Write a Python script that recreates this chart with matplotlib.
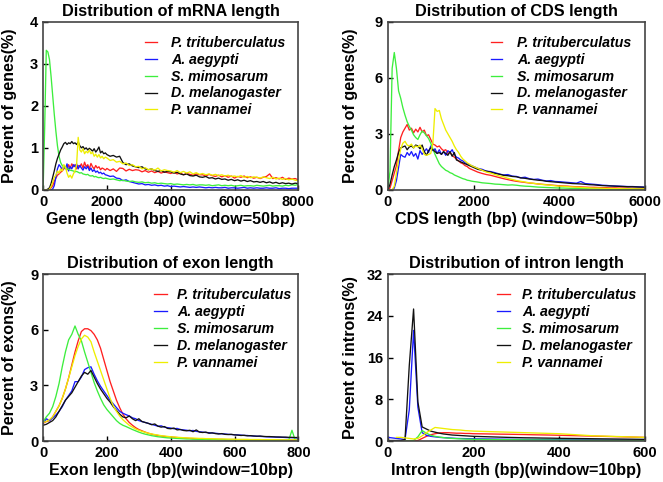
import numpy as np
import matplotlib
matplotlib.use("Agg")
import matplotlib.pyplot as plt

species = ["P. trituberculatus", "A. aegypti", "S. mimosarum", "D. melanogaster", "P. vannamei"]
colors = ["#ff2020", "#1a1aff", "#3dee3d", "#111111", "#eeee00"]

# ---------------- mRNA length (window 50bp) ----------------
x_mrna = list(range(0, 2000, 50)) + list(range(2000, 8001, 100))
mrna_red = [0, 0, 0, 0, 0.02, 0.05, 0.1, 0.2, 0.28, 0.35,
            0.38, 0.42, 0.45, 0.5, 0.55, 0.48, 0.6, 0.52, 0.62, 0.55,
            0.6, 0.5, 0.58, 0.55, 0.62, 0.52, 0.66, 0.55, 0.6, 0.5,
            0.63, 0.55, 0.5, 0.58, 0.52, 0.55, 0.48, 0.52, 0.5, 0.47,
            0.51, 0.46, 0.5, 0.44, 0.52, 0.51, 0.45, 0.49, 0.46, 0.48,
            0.47, 0.43, 0.46, 0.42, 0.45, 0.41, 0.44, 0.4, 0.43, 0.41,
            0.39, 0.42, 0.38, 0.4, 0.36, 0.39, 0.37, 0.35, 0.38, 0.36,
            0.36, 0.33, 0.37, 0.34, 0.32, 0.35, 0.31, 0.34, 0.3, 0.33,
            0.28, 0.32, 0.3, 0.33, 0.29, 0.31, 0.28, 0.3, 0.27, 0.3,
            0.32, 0.38, 0.27, 0.29, 0.26, 0.3, 0.25, 0.28, 0.26, 0.27,
            0.24]
mrna_blue = [0, 0, 0, 0, 0, 0, 0.02, 0.1, 0.3, 0.5,
             0.6, 0.55, 0.48, 0.58, 0.5, 0.62, 0.45, 0.55, 0.5, 0.6,
             0.55, 0.62, 0.5, 0.58, 0.52, 0.47, 0.55, 0.5, 0.56, 0.46,
             0.52, 0.44, 0.48, 0.42, 0.45, 0.4, 0.42, 0.38, 0.4, 0.36,
             0.35, 0.32, 0.33, 0.28, 0.27, 0.22, 0.24, 0.2, 0.18, 0.16,
             0.14, 0.15, 0.12, 0.13, 0.11, 0.12, 0.1, 0.11, 0.09, 0.1,
             0.08, 0.09, 0.08, 0.07, 0.08, 0.07, 0.06, 0.07, 0.06, 0.07,
             0.06, 0.05, 0.06, 0.05, 0.06, 0.05, 0.05, 0.06, 0.04, 0.05,
             0.05, 0.04, 0.05, 0.06, 0.04, 0.05, 0.04, 0.05, 0.04, 0.04,
             0.05, 0.04, 0.04, 0.05, 0.03, 0.04, 0.04, 0.03, 0.04, 0.04,
             0.04]
mrna_green = [0.0, 1.5, 3.32, 3.28, 3.1, 2.7, 2.25, 1.8, 1.4, 1.05,
              0.8, 0.65, 0.58, 0.55, 0.52, 0.5, 0.49, 0.47, 0.46, 0.45,
              0.43, 0.44, 0.42, 0.4, 0.41, 0.38, 0.37, 0.36, 0.37, 0.34,
              0.33, 0.34, 0.31, 0.32, 0.3, 0.29, 0.3, 0.28, 0.27, 0.28,
              0.27, 0.25, 0.26, 0.24, 0.22, 0.23, 0.21, 0.2, 0.21, 0.19,
              0.18, 0.19, 0.17, 0.18, 0.16, 0.17, 0.15, 0.16, 0.15, 0.14,
              0.15, 0.13, 0.14, 0.13, 0.12, 0.13, 0.12, 0.13, 0.11, 0.12,
              0.12, 0.11, 0.12, 0.1, 0.11, 0.12, 0.1, 0.11, 0.1, 0.11,
              0.09, 0.1, 0.11, 0.09, 0.1, 0.1, 0.09, 0.11, 0.1, 0.09,
              0.1, 0.11, 0.09, 0.1, 0.1, 0.09, 0.11, 0.1, 0.12, 0.11,
              0.13]
mrna_black = [0, 0, 0, 0.02, 0.05, 0.15, 0.3, 0.45, 0.62, 0.75,
              0.85, 0.95, 1.02, 1.1, 1.13, 1.08, 1.12, 1.1, 1.15, 1.1,
              1.12, 1.08, 1.14, 1.05, 1.0, 1.03, 0.97, 1.0, 0.95, 0.99,
              0.96, 0.92, 0.98, 0.9, 0.95, 1.02, 0.88, 0.92, 0.86, 0.88,
              0.84, 0.8, 0.82, 0.78, 0.8, 0.65, 0.6, 0.62, 0.57, 0.55,
              0.53, 0.55, 0.5, 0.48, 0.5, 0.46, 0.44, 0.46, 0.42, 0.44,
              0.43, 0.4, 0.42, 0.38, 0.36, 0.38, 0.34, 0.33, 0.35, 0.31,
              0.3, 0.32, 0.28, 0.29, 0.26, 0.28, 0.25, 0.26, 0.23, 0.25,
              0.22, 0.24, 0.21, 0.23, 0.2, 0.22, 0.19, 0.2, 0.18, 0.2,
              0.17, 0.19, 0.16, 0.18, 0.15, 0.17, 0.15, 0.16, 0.14, 0.16,
              0.15]
mrna_yellow = [0, 0, 0, 0, 0.02, 0.08, 0.18, 0.3, 0.35, 0.45,
               0.4, 0.5, 0.45, 0.6, 0.55, 0.4, 0.3, 0.35, 0.28, 0.38,
               0.45, 0.6, 1.25, 0.95, 0.9, 0.98, 0.86, 0.92, 0.88, 0.95,
               0.86, 0.9, 0.8, 0.85, 0.78, 0.84, 0.76, 0.8, 0.74, 0.78,
               0.76, 0.7, 0.72, 0.66, 0.68, 0.62, 0.64, 0.58, 0.6, 0.55,
               0.56, 0.5, 0.53, 0.48, 0.5, 0.47, 0.52, 0.45, 0.48, 0.46,
               0.45, 0.42, 0.46, 0.41, 0.44, 0.4, 0.43, 0.38, 0.41, 0.37,
               0.39, 0.36, 0.38, 0.35, 0.37, 0.34, 0.36, 0.33, 0.35, 0.32,
               0.33, 0.31, 0.34, 0.3, 0.32, 0.29, 0.31, 0.3, 0.28, 0.31,
               0.29, 0.27, 0.3, 0.26, 0.28, 0.25, 0.27, 0.24, 0.26, 0.23,
               0.22]

# ---------------- CDS length (window 50bp) ----------------
x_cds = list(range(0, 2000, 50)) + list(range(2000, 6001, 100))
cds_red = [0, 0.1, 0.5, 0.9, 1.3, 2.1, 2.8, 3.1, 3.3, 3.5,
           3.2, 3.3, 3.05, 3.25, 3.1, 3.35, 3.1, 3.2, 2.9, 2.95,
           2.7, 2.45, 2.4, 2.3, 2.35, 2.2, 2.1, 2.15, 1.95, 2.0,
           1.85, 1.75, 1.65, 1.55, 1.45, 1.4, 1.3, 1.25, 1.15, 1.1,
           1.05, 0.95, 0.88, 0.82, 0.78, 0.72, 0.66, 0.6, 0.55, 0.5,
           0.46, 0.43, 0.4, 0.37, 0.35, 0.32, 0.3, 0.28, 0.26, 0.24,
           0.22, 0.21, 0.2, 0.18, 0.17, 0.16, 0.15, 0.14, 0.14, 0.13,
           0.12, 0.12, 0.11, 0.11, 0.1, 0.1, 0.1, 0.09, 0.09, 0.09,
           0.08]
cds_blue = [0, 0, 0, 0.1, 0.5, 1.2, 1.9, 1.8, 1.75, 2.0,
            1.85, 2.05, 1.8, 1.95, 1.65, 2.1, 1.9, 2.05, 2.2, 2.0,
            2.35, 2.1, 2.2, 1.95, 2.15, 1.9, 2.05, 1.85, 2.1, 2.0,
            2.15, 1.9, 1.75, 1.7, 1.6, 1.55, 1.45, 1.4, 1.35, 1.3,
            1.25, 1.15, 1.1, 1.0, 0.98, 0.92, 0.85, 0.8, 0.82, 0.74,
            0.72, 0.65, 0.68, 0.6, 0.56, 0.58, 0.52, 0.48, 0.5, 0.45,
            0.44, 0.42, 0.4, 0.38, 0.36, 0.45, 0.34, 0.32, 0.3, 0.28,
            0.25, 0.24, 0.22, 0.21, 0.2, 0.19, 0.18, 0.18, 0.17, 0.16,
            0.15]
cds_green = [0, 1.0, 6.5, 7.35, 6.5, 5.3, 4.9, 4.4, 4.0, 3.65,
             3.4, 3.2, 2.95, 2.8, 2.7, 2.95, 3.15, 3.05, 2.9, 2.75,
             2.5, 2.2, 1.9, 1.65, 1.4, 1.25, 1.15, 1.05, 1.0, 0.92,
             0.88, 0.8, 0.75, 0.7, 0.65, 0.6, 0.57, 0.52, 0.5, 0.47,
             0.45, 0.42, 0.38, 0.36, 0.34, 0.31, 0.3, 0.28, 0.26, 0.27,
             0.25, 0.22, 0.2, 0.19, 0.17, 0.15, 0.14, 0.13, 0.12, 0.11,
             0.1, 0.1, 0.09, 0.08, 0.08, 0.07, 0.07, 0.06, 0.06, 0.05,
             0.05, 0.05, 0.04, 0.05, 0.04, 0.04, 0.04, 0.03, 0.04, 0.03,
             0.03]
cds_black = [0, 0.3, 0.8, 1.25, 1.6, 2.0, 2.25, 2.3, 2.35, 2.15,
             2.3, 2.35, 2.25, 2.4, 2.35, 2.2, 2.4, 2.05, 1.85, 2.1,
             2.25, 2.15, 2.05, 1.95, 2.0, 1.9, 2.05, 1.95, 1.85, 2.05,
             1.8, 2.0, 1.6, 1.55, 1.5, 1.45, 1.4, 1.35, 1.3, 1.25,
             1.2, 1.1, 1.05, 1.0, 0.95, 0.88, 0.84, 0.78, 0.76, 0.72,
             0.7, 0.64, 0.62, 0.58, 0.55, 0.52, 0.5, 0.46, 0.44, 0.42,
             0.4, 0.38, 0.36, 0.34, 0.33, 0.32, 0.3, 0.28, 0.27, 0.25,
             0.23, 0.22, 0.21, 0.2, 0.19, 0.18, 0.17, 0.17, 0.16, 0.15,
             0.14]
cds_yellow = [0, 0, 0, 0.2, 0.9, 1.6, 2.2, 2.5, 2.6, 2.4,
              2.35, 2.45, 2.25, 2.35, 2.3, 2.4, 2.2, 1.9, 1.85, 1.9,
              1.95, 2.5, 4.35, 4.2, 4.25, 3.8, 3.5, 3.2, 3.0, 2.8,
              2.6, 2.35, 2.15, 2.0, 1.8, 1.65, 1.55, 1.45, 1.38, 1.3,
              1.25, 1.15, 1.05, 0.95, 0.9, 0.82, 0.75, 0.7, 0.62, 0.56,
              0.5, 0.46, 0.42, 0.38, 0.35, 0.32, 0.29, 0.27, 0.25, 0.22,
              0.2, 0.19, 0.17, 0.16, 0.15, 0.13, 0.12, 0.11, 0.1, 0.1,
              0.09, 0.08, 0.08, 0.07, 0.07, 0.06, 0.06, 0.06, 0.05, 0.05,
              0.05]

# ---------------- Exon length (window 10bp) ----------------
x_exon = list(range(0, 801, 10))
exon_red = [0.95, 1.05, 1.1, 1.3, 1.6, 1.9, 2.3, 2.8, 3.4, 4.1,
            4.8, 5.4, 5.9, 6.05, 6.05, 5.95, 5.75, 5.45, 5.0, 4.4,
            3.8, 3.2, 2.7, 2.2, 1.8, 1.45, 1.2, 1.0, 0.85, 0.72,
            0.62, 0.55, 0.48, 0.42, 0.37, 0.33, 0.3, 0.27, 0.25, 0.23,
            0.22, 0.2, 0.19, 0.17, 0.16, 0.15, 0.14, 0.13, 0.12, 0.12,
            0.11, 0.1, 0.1, 0.1, 0.09, 0.09, 0.09, 0.08, 0.08, 0.08,
            0.08, 0.07, 0.07, 0.07, 0.07, 0.06, 0.06, 0.06, 0.06, 0.06,
            0.05, 0.05, 0.05, 0.05, 0.05, 0.05, 0.04, 0.04, 0.04, 0.04,
            0.04]
exon_blue = [0.95, 1.2, 1.1, 1.25, 1.4, 1.6, 1.85, 2.2, 2.45, 2.7,
             3.2, 3.2, 3.45, 3.85, 3.95, 4.0, 3.6, 3.25, 2.95, 2.7,
             2.45, 2.2, 2.0, 1.8, 1.6, 1.5, 1.42, 1.35, 1.25, 1.2,
             1.1, 1.05, 1.0, 0.95, 0.9, 0.85, 0.8, 0.82, 0.75, 0.72,
             0.7, 0.66, 0.68, 0.62, 0.6, 0.58, 0.55, 0.57, 0.52, 0.5,
             0.48, 0.46, 0.45, 0.43, 0.42, 0.4, 0.39, 0.38, 0.36, 0.35,
             0.34, 0.33, 0.32, 0.3, 0.3, 0.28, 0.27, 0.26, 0.25, 0.24,
             0.23, 0.22, 0.22, 0.21, 0.2, 0.2, 0.19, 0.18, 0.18, 0.17,
             0.16]
exon_green = [1.05, 1.3, 1.5, 1.85, 2.4, 3.1, 4.0, 4.8, 5.45, 5.75,
              6.2, 5.75, 5.4, 4.8, 4.25, 3.7, 3.15, 2.7, 2.3, 1.95,
              1.7, 1.5, 1.3, 1.1, 0.95, 0.85, 0.78, 0.7, 0.62, 0.55,
              0.48, 0.42, 0.37, 0.33, 0.29, 0.26, 0.23, 0.21, 0.19, 0.17,
              0.16, 0.15, 0.14, 0.13, 0.12, 0.11, 0.11, 0.1, 0.1, 0.09,
              0.09, 0.09, 0.08, 0.08, 0.08, 0.07, 0.07, 0.07, 0.07, 0.06,
              0.06, 0.06, 0.06, 0.06, 0.05, 0.05, 0.05, 0.05, 0.05, 0.05,
              0.05, 0.04, 0.04, 0.04, 0.04, 0.04, 0.04, 0.05, 0.58, 0.05,
              0.04]
exon_black = [0.85, 0.9, 1.0, 1.1, 1.3, 1.6, 1.9, 2.2, 2.4, 2.6,
              2.9, 3.2, 3.5, 3.7, 3.6, 3.8, 3.45, 3.1, 2.8, 2.55,
              2.3, 2.1, 1.85, 1.65, 1.45, 1.3, 1.25, 1.35, 1.2, 1.1,
              1.2, 1.05, 1.0, 0.95, 0.88, 0.92, 0.8, 0.75, 0.78, 0.68,
              0.66, 0.7, 0.6, 0.62, 0.57, 0.55, 0.58, 0.5, 0.6, 0.48,
              0.46, 0.48, 0.42, 0.44, 0.4, 0.38, 0.4, 0.36, 0.35, 0.36,
              0.33, 0.32, 0.3, 0.31, 0.28, 0.29, 0.27, 0.26, 0.27, 0.25,
              0.24, 0.24, 0.23, 0.22, 0.22, 0.21, 0.21, 0.2, 0.2, 0.19,
              0.19]
exon_yellow = [1.0, 1.05, 1.15, 1.3, 1.6, 1.9, 2.3, 2.8, 3.4, 4.0,
               4.6, 5.1, 5.5, 5.7, 5.6, 5.35, 4.8, 4.3, 3.8, 3.3,
               2.8, 2.3, 1.9, 1.6, 1.35, 1.15, 1.0, 0.85, 0.75, 0.65,
               0.58, 0.52, 0.47, 0.42, 0.38, 0.35, 0.32, 0.29, 0.27, 0.25,
               0.23, 0.22, 0.2, 0.19, 0.18, 0.17, 0.16, 0.16, 0.15, 0.14,
               0.14, 0.13, 0.13, 0.12, 0.12, 0.11, 0.11, 0.11, 0.1, 0.1,
               0.1, 0.09, 0.09, 0.09, 0.09, 0.08, 0.08, 0.08, 0.08, 0.07,
               0.07, 0.07, 0.07, 0.07, 0.06, 0.06, 0.06, 0.06, 0.06, 0.06,
               0.05]

# ---------------- Intron length (window 10bp) ----------------
x_intron = list(range(0, 201, 10)) + list(range(220, 601, 20))
intron_red = [0, 0, 0, 0, 0, 0, 0, 0.1, 0.5, 0.9, 1.2, 1.4, 1.55, 1.6, 1.6, 1.55, 1.5, 1.5, 1.45, 1.45, 1.4,
              1.38, 1.35, 1.32, 1.3, 1.27, 1.24, 1.2, 1.17, 1.14, 1.1, 1.06, 1.02, 0.98, 0.94, 0.9, 0.86, 0.82, 0.78, 0.74, 0.7]
intron_blue = [0.7, 0.6, 0.5, 0.4, 0.3, 6.0, 21.2, 6.5, 1.6, 1.1, 0.9, 0.8, 0.7, 0.65, 0.6, 0.55, 0.5, 0.48, 0.46, 0.44, 0.42,
               0.4, 0.38, 0.36, 0.34, 0.32, 0.3, 0.29, 0.28, 0.27, 0.26, 0.25, 0.24, 0.23, 0.22, 0.21, 0.2, 0.2, 0.19, 0.18, 0.18]
intron_green = [0, 0, 0, 0, 0, 0, 0.1, 0.8, 2.0, 1.5, 1.1, 0.9, 0.75, 0.65, 0.55, 0.5, 0.45, 0.42, 0.38, 0.35, 0.32,
                0.3, 0.28, 0.26, 0.25, 0.24, 0.22, 0.21, 0.2, 0.19, 0.18, 0.17, 0.16, 0.15, 0.14, 0.14, 0.13, 0.12, 0.12, 0.11, 0.1]
intron_black = [0.1, 0.1, 0.1, 0.1, 0.3, 14.5, 25.3, 7.5, 2.7, 2.3, 1.9, 1.7, 1.5, 1.35, 1.25, 1.15, 1.1, 1.05, 1.0, 0.95, 0.9,
                0.85, 0.8, 0.75, 0.7, 0.66, 0.62, 0.6, 0.57, 0.55, 0.52, 0.5, 0.48, 0.46, 0.44, 0.42, 0.4, 0.38, 0.36, 0.34, 0.32]
intron_yellow = [np.nan, np.nan, 0.7, 0.7, 0.6, 0.5, 0.4, 0.5, 1.0, 1.6, 2.1, 2.6, 2.5, 2.4, 2.3, 2.2, 2.15, 2.1, 2.0, 1.95, 1.9,
                 1.85, 1.8, 1.75, 1.7, 1.65, 1.6, 1.55, 1.5, 1.45, 1.4, 1.3, 1.2, 1.1, 1.0, 0.95, 0.9, 0.85, 0.8, 0.75, 0.7]

panels = [
    dict(x=x_mrna, ys=[mrna_red, mrna_blue, mrna_green, mrna_black, mrna_yellow],
         title="Distribution of mRNA length", xlabel="Gene length (bp) (window=50bp)",
         ylabel="Percent of genes(%)", xlim=(0, 8000), xticks=[0, 2000, 4000, 6000, 8000],
         ylim=(0, 4), yticks=[0, 1, 2, 3, 4], pos=[0.065, 0.606, 0.385, 0.349],
         leg=(0.40, 0.915), hl=0.8, htp=1.05, ylx=-0.102),
    dict(x=x_cds, ys=[cds_red, cds_blue, cds_green, cds_black, cds_yellow],
         title="Distribution of CDS length", xlabel="CDS length (bp) (window=50bp)",
         ylabel="Percent of genes(%)", xlim=(0, 6000), xticks=[0, 2000, 4000, 6000],
         ylim=(0, 9), yticks=[0, 3, 6, 9], pos=[0.585, 0.606, 0.388, 0.349],
         leg=(0.40, 0.915), hl=0.8, htp=1.05, ylx=-0.117),
    dict(x=x_exon, ys=[exon_red, exon_blue, exon_green, exon_black, exon_yellow],
         title="Distribution of exon length", xlabel="Exon length (bp)(window=10bp)",
         ylabel="Percent of exons(%)", xlim=(0, 800), xticks=[0, 200, 400, 600, 800],
         ylim=(0, 9), yticks=[0, 3, 6, 9], pos=[0.065, 0.085, 0.385, 0.3465],
         leg=(0.435, 0.915), hl=0.92, htp=0.68, ylx=-0.102),
    dict(x=x_intron, ys=[intron_red, intron_blue, intron_green, intron_black, intron_yellow],
         title="Distribution of intron length", xlabel="Intron length (bp)(window=10bp)",
         ylabel="Percent of introns(%)", xlim=(0, 600), xticks=[0, 200, 400, 600],
         ylim=(0, 32), yticks=[0, 8, 16, 24, 32], pos=[0.585, 0.085, 0.388, 0.3465],
         leg=(0.423, 0.915), hl=0.92, htp=0.9, ylx=-0.117),
]

plt.rcParams['font.family'] = ['Liberation Sans', 'DejaVu Sans']

fig = plt.figure(figsize=(6.63, 4.82), dpi=100)
for p in panels:
    for y in p["ys"]:
        assert len(y) == len(p["x"]), (p["title"], len(y), len(p["x"]))
    ax = fig.add_axes(p["pos"])
    for y, c, lab in zip(p["ys"], colors, species):
        ax.plot(p["x"], y, color=c, lw=0.95, label=lab)
    ax.set_xlim(*p["xlim"])
    ax.set_ylim(*p["ylim"])
    ax.set_xticks(p["xticks"])
    ax.set_yticks(p["yticks"])
    ax.tick_params(direction="in", length=3.5, width=1, labelsize=10.5, pad=3.5,
                   top=False, right=False)
    for lbl in ax.get_xticklabels() + ax.get_yticklabels():
        lbl.set_fontweight("bold")
    for s in ax.spines.values():
        s.set_color("#444444")
        s.set_linewidth(1.2)
    ax.set_title(p["title"], fontsize=11.7, fontweight="bold", pad=4)
    ax.set_xlabel(p["xlabel"], fontsize=11.6, fontweight="bold", labelpad=2)
    ax.set_ylabel(p["ylabel"], fontsize=11.6, fontweight="bold")
    ax.yaxis.set_label_coords(p["ylx"], 0.5)
    ax.legend(loc="upper left", bbox_to_anchor=p["leg"], frameon=False,
              prop=dict(weight="bold", style="italic", size=10.2),
              handlelength=p["hl"], handletextpad=p["htp"], labelspacing=0.2,
              borderpad=0, borderaxespad=0)

fig.savefig("out.png", dpi=100)
